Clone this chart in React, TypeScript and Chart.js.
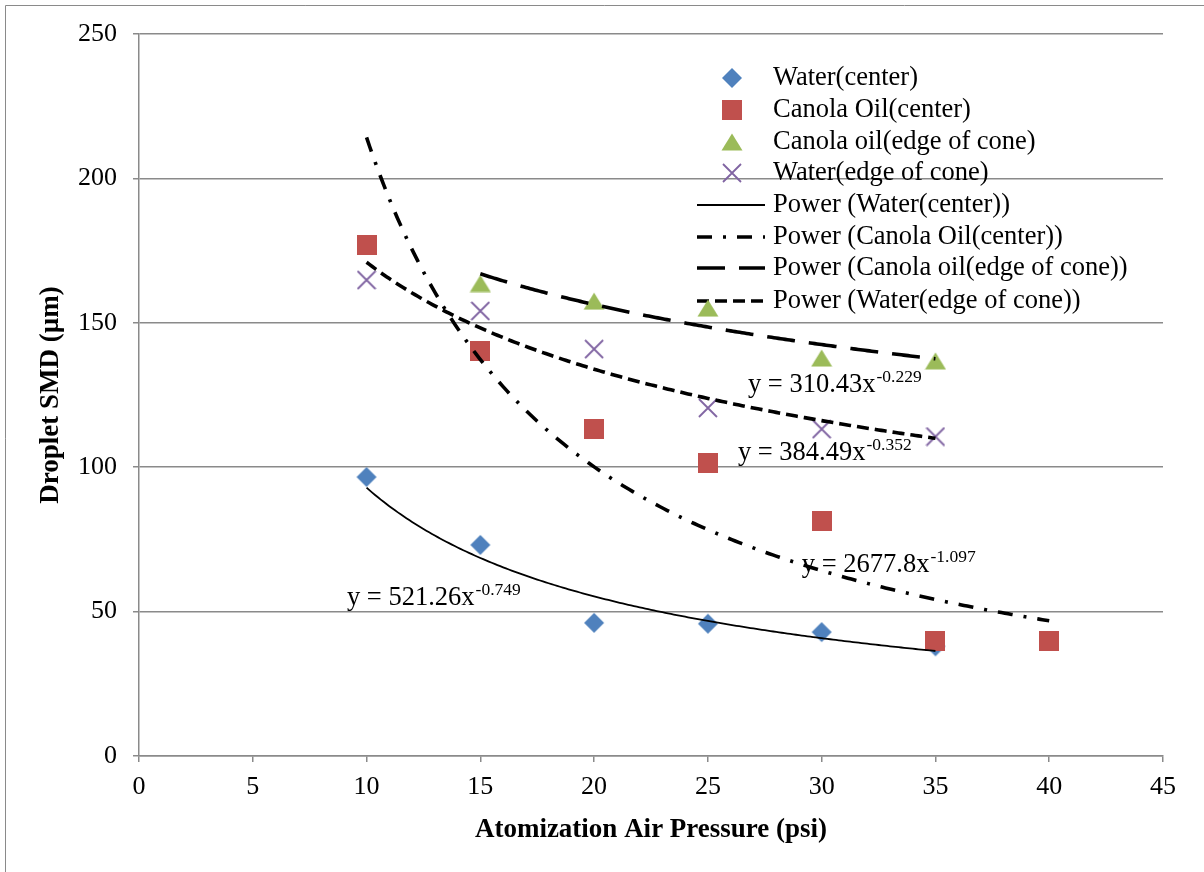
import React, { useEffect, useRef } from 'react';
import { Chart, registerables } from 'chart.js';

Chart.register(...registerables);

// ---- data ----
const pressureWaterCenter = [10, 15, 20, 25, 30, 35];
const smdWaterCenter = [96.6, 73.1, 46.1, 45.8, 42.9, 38.0];

const pressureCanolaCenter = [10, 15, 20, 25, 30, 35, 40];
const smdCanolaCenter = [176.9, 140.2, 113.2, 101.5, 81.4, 39.8, 39.8];

const pressureCanolaEdge = [15, 20, 25, 30, 35];
const smdCanolaEdge = [163.6, 157.5, 155.1, 137.8, 136.8];

const pressureWaterEdge = [10, 15, 20, 25, 30, 35];
const smdWaterEdge = [164.8, 154.1, 140.9, 120.5, 113.2, 110.6];

const seriesNames = [
  'Water(center)',
  'Canola Oil(center)',
  'Canola oil(edge of cone)',
  'Water(edge of cone)',
];

// power trendlines y = a * x^b, over the span of each series
const trendCoef = [521.26, 2677.8, 310.43, 384.49];
const trendExp = [-0.749, -1.097, -0.229, -0.352];
const trendFrom = [10, 10, 15, 10];
const trendTo = [35, 40, 35, 35];

// equation label anchors (left edge, baseline) in axis units
const eqAnchorX = [9.14, 29.13, 26.76, 26.32];
const eqAnchorY = [52.3, 63.7, 126.0, 102.5];

const xTicksMax = 45;
const yTicksMax = 250;

// ---- styling ----
const SERIF = '"Liberation Serif", "Times New Roman", Times, serif';
const GRAY = '#8a8a8a';
const COLORS = ['#4F81BD', '#C0504D', '#9BBB59', '#8064A2'];
const TREND_DASH: number[][] = [[], [15, 11, 3, 11], [28, 14], [12, 6]];
const TREND_WIDTH = [1.8, 3.6, 3.6, 3.6];

function makeMarker(kind: number): HTMLCanvasElement {
  const c = document.createElement('canvas');
  const ctx = c.getContext('2d')!;
  if (kind === 0) {
    c.width = 22; c.height = 22;
    ctx.fillStyle = COLORS[0];
    ctx.beginPath();
    ctx.moveTo(11, 1); ctx.lineTo(21, 11); ctx.lineTo(11, 21); ctx.lineTo(1, 11);
    ctx.closePath(); ctx.fill();
  } else if (kind === 1) {
    c.width = 20; c.height = 20;
    ctx.fillStyle = COLORS[1];
    ctx.fillRect(0, 0, 20, 20);
  } else if (kind === 2) {
    c.width = 22; c.height = 18;
    ctx.fillStyle = COLORS[2];
    ctx.beginPath();
    ctx.moveTo(11, 0.5); ctx.lineTo(21.5, 17.5); ctx.lineTo(0.5, 17.5);
    ctx.closePath(); ctx.fill();
  } else {
    c.width = 20; c.height = 20;
    ctx.strokeStyle = COLORS[3];
    ctx.lineWidth = 1.8;
    ctx.beginPath();
    ctx.moveTo(1, 1); ctx.lineTo(19, 19);
    ctx.moveTo(19, 1); ctx.lineTo(1, 19);
    ctx.stroke();
  }
  return c;
}

function pairs(xs: number[], ys: number[]) {
  return xs.map((x, i) => ({ x, y: ys[i] }));
}

function trendPoints(i: number) {
  const pts: { x: number; y: number }[] = [];
  const steps = 200;
  for (let k = 0; k <= steps; k++) {
    const x = trendFrom[i] + ((trendTo[i] - trendFrom[i]) * k) / steps;
    pts.push({ x, y: trendCoef[i] * Math.pow(x, trendExp[i]) });
  }
  return pts;
}

export default function App() {
  const ref = useRef<HTMLCanvasElement | null>(null);

  useEffect(() => {
    const canvas = ref.current;
    if (!canvas) return;
    const markers = [0, 1, 2, 3].map(makeMarker);

    const frame = {
      id: 'frame',
      beforeDraw(chart: any) {
        const { ctx, width, height } = chart;
        ctx.save();
        ctx.fillStyle = '#ffffff';
        ctx.fillRect(0, 0, width, height);
        ctx.strokeStyle = GRAY;
        ctx.lineWidth = 1;
        ctx.beginPath();
        ctx.moveTo(5.5, height);
        ctx.lineTo(5.5, 5.5);
        ctx.lineTo(width, 5.5);
        ctx.stroke();
        ctx.restore();
      },
    };

    const legendBox = {
      id: 'legendBox',
      beforeDatasetsDraw(chart: any) {
        const { ctx, chartArea } = chart;
        const left = chartArea.left;
        const rowY = [78, 110, 142, 173, 205, 237, 268, 301];
        const markerX = left + 593;
        const lineX0 = left + 558;
        const lineX1 = left + 626;
        const textX = left + 634;
        ctx.save();
        ctx.font = `26.5px ${SERIF}`;
        ctx.fillStyle = '#000';
        ctx.textBaseline = 'middle';
        ctx.textAlign = 'left';
        for (let i = 0; i < 4; i++) {
          const m = markers[i];
          ctx.drawImage(m, markerX - m.width / 2, rowY[i] - m.height / 2);
          ctx.fillText(seriesNames[i], textX, rowY[i]);
        }
        for (let i = 0; i < 4; i++) {
          const y = rowY[4 + i];
          ctx.save();
          ctx.strokeStyle = '#000';
          ctx.lineWidth = TREND_WIDTH[i];
          ctx.setLineDash(TREND_DASH[i]);
          ctx.beginPath();
          ctx.moveTo(lineX0, y);
          ctx.lineTo(lineX1, y);
          ctx.stroke();
          ctx.restore();
          ctx.fillText(`Power (${seriesNames[i]})`, textX, y);
        }
        ctx.restore();
      },
    };

    const equations = {
      id: 'equations',
      afterDatasetsDraw(chart: any) {
        const { ctx } = chart;
        const xs = chart.scales.x;
        const ys = chart.scales.y;
        ctx.save();
        ctx.fillStyle = '#000';
        ctx.textBaseline = 'alphabetic';
        ctx.textAlign = 'left';
        for (let i = 0; i < 4; i++) {
          const px = xs.getPixelForValue(eqAnchorX[i]);
          const py = ys.getPixelForValue(eqAnchorY[i]);
          const base = `y = ${trendCoef[i]}x`;
          ctx.font = `26.5px ${SERIF}`;
          ctx.fillText(base, px, py);
          const w = ctx.measureText(base).width;
          ctx.font = `17.5px ${SERIF}`;
          ctx.fillText(String(trendExp[i]), px + w + 1, py - 10);
        }
        ctx.restore();
      },
    };

    const pointSets = [
      pairs(pressureWaterCenter, smdWaterCenter),
      pairs(pressureCanolaCenter, smdCanolaCenter),
      pairs(pressureCanolaEdge, smdCanolaEdge),
      pairs(pressureWaterEdge, smdWaterEdge),
    ];

    const datasets: any[] = [];
    for (let i = 0; i < 4; i++) {
      datasets.push({
        label: `Power (${seriesNames[i]})`,
        data: trendPoints(i),
        showLine: true,
        pointRadius: 0,
        borderColor: '#000',
        borderWidth: TREND_WIDTH[i],
        borderDash: TREND_DASH[i],
        borderCapStyle: 'butt',
        fill: false,
        order: i,
      });
    }
    for (let i = 0; i < 4; i++) {
      datasets.push({
        label: seriesNames[i],
        data: pointSets[i],
        showLine: false,
        pointStyle: markers[i],
        pointRadius: 10,
        backgroundColor: COLORS[i],
        borderColor: COLORS[i],
        order: 7 - i,
      });
    }

    const tickFont = { family: SERIF, size: 26 };
    const titleFont = { family: SERIF, size: 27, weight: 'bold' as const };

    const chart = new Chart(canvas, {
      type: 'scatter',
      data: { datasets },
      options: {
        animation: false,
        responsive: false,
        devicePixelRatio: 1,
        events: [],
        layout: { padding: { top: 34, right: 41, left: 0, bottom: 0 } },
        plugins: { legend: { display: false }, tooltip: { enabled: false } },
        scales: {
          x: {
            type: 'linear',
            min: 0,
            max: xTicksMax,
            ticks: { stepSize: 5, font: tickFont, color: '#000', padding: 10, maxRotation: 0 },
            grid: { drawOnChartArea: false, drawTicks: true, tickLength: 6, color: GRAY, lineWidth: 1.5 },
            border: { color: GRAY, width: 1.5 },
            title: {
              display: true,
              text: 'Atomization Air Pressure (psi)',
              font: titleFont,
              color: '#000',
              padding: { top: 0, bottom: 26 },
            },
            afterFit: (s: any) => { s.height = 116; },
          },
          y: {
            type: 'linear',
            min: 0,
            max: yTicksMax,
            ticks: { stepSize: 50, font: tickFont, color: '#000', padding: 16 },
            grid: { drawTicks: true, tickLength: 6, color: GRAY, lineWidth: 1.5 },
            border: { color: GRAY, width: 1.5 },
            title: {
              display: true,
              text: 'Droplet SMD (µm)',
              font: titleFont,
              color: '#000',
              padding: { top: 35, bottom: 0 },
            },
            afterFit: (s: any) => { s.width = 139; },
          },
        },
      },
      plugins: [frame, legendBox, equations],
    });

    return () => chart.destroy();
  }, []);

  return (
    <div style={{ position: 'absolute', left: 0, top: 0, width: 1204, height: 872 }}>
      <canvas ref={ref} width={1204} height={872} style={{ display: 'block' }} />
    </div>
  );
}
